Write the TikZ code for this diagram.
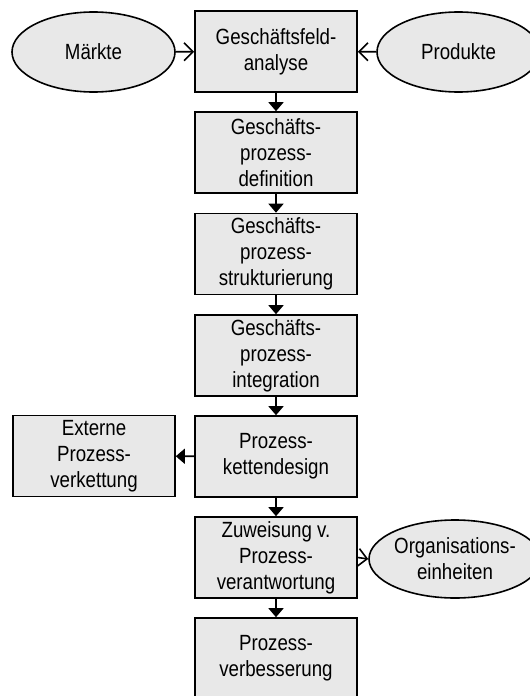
\documentclass[tikz,border=0pt]{standalone}
\usepackage{fontspec}
\setmainfont[FakeStretch=0.85]{Liberation Sans}
\usetikzlibrary{shapes.geometric,arrows.meta}
\definecolor{boxfill}{RGB}{232,232,232}
\begin{document}
\begin{tikzpicture}[x=1pt,y=-1pt,
  every node/.style={font=\fontsize{22}{26}\selectfont, align=center, inner sep=0pt},
  stepbox/.style={draw, line width=1.6pt, fill=boxfill, minimum width=162pt, minimum height=81pt},
  oval/.style={draw, line width=1.6pt, fill=boxfill, ellipse},
  flow/.style={line width=1.6pt, -{Triangle[width=15pt,length=9pt]}},
  feed/.style={line width=1.6pt, -{Straight Barb[width=18pt,length=9pt,line width=1.6pt]}}]
\useasboundingbox (0,0) rectangle (530,696);
\begin{scope}
\clip (0,0) rectangle (530,696);

% main process chain
\node[stepbox] (a) at (276,51.5) {Geschäftsfeld-\\analyse};
\node[stepbox] (b) at (276,152.5) {Geschäfts-\\prozess-\\definition};
\node[stepbox] (c) at (276,254) {Geschäfts-\\prozess-\\strukturierung};
\node[stepbox] (d) at (276,355.5) {Geschäfts-\\prozess-\\integration};
\node[stepbox] (e) at (276,456.5) {Prozess-\\kettendesign};
\node[stepbox] (f) at (276,557.5) {Zuweisung v.\\Prozess-\\verantwortung};
\node[stepbox] (g) at (276,658.5) {Prozess-\\verbesserung};

% side elements
\node[stepbox] (x) at (94,456) {Externe\\Prozess-\\verkettung};
\node[oval, minimum width=163pt, minimum height=80pt] (m) at (93.5,52) {Märkte};
\node[oval, minimum width=163pt, minimum height=80pt] (p) at (458.5,52) {Produkte};
\node[oval, minimum width=156pt, minimum height=78pt] (o) at (455,559) {Organisations-\\einheiten};

% connectors
\draw[flow] (a) -- (b);
\draw[flow] (b) -- (c);
\draw[flow] (c) -- (d);
\draw[flow] (d) -- (e);
\draw[flow] (e) -- (f);
\draw[flow] (f) -- (g);
\draw[flow] (e) -- (x);
\draw[feed] (m) -- (a);
\draw[feed] (p) -- (a);
\draw[feed] (f.east) -- (o.west);
\end{scope}
\end{tikzpicture}
\end{document}
